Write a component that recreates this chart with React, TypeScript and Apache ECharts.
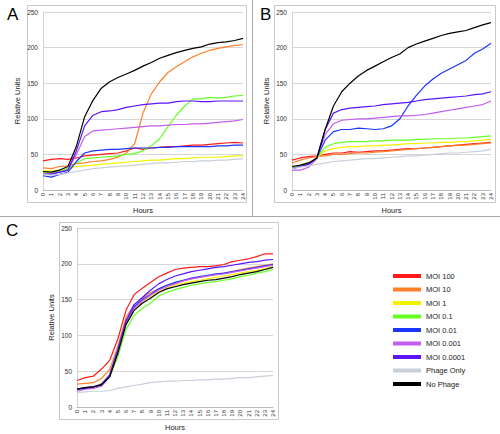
import React, { useEffect, useRef } from "react";
import * as echarts from "echarts";

const hours = [0,1,2,3,4,5,6,7,8,9,10,11,12,13,14,15,16,17,18,19,20,21,22,23,24];
const hourTicks = hours.map(String);
const yTicks = [0, 50, 100, 150, 200, 250];

const seriesNames = ["MOI 100","MOI 10","MOI 1","MOI 0.1","MOI 0.01","MOI 0.001","MOI 0.0001","Phage Only","No Phage"];
const seriesColors = ["#ff1a1a","#ff7f2a","#f2f200","#66ff22","#1a35ff","#c45cf2","#5a14ff","#c8d0da","#000000"];

// Panel A
const A_moi100 = [41,43,44,43,45,48,49,50,51,52,55,59,57,59,60,61,61,62,63,63,64,65,66,67,66];
const A_moi10 = [31,30,33,34,37,38,40,41,43,46,52,65,108,135,152,165,173,180,187,192,196,199,201,203,204];
const A_moi1 = [27,27,28,30,33,34,35,36,37,38,39,40,41,42,42,43,44,44,45,46,46,46,47,48,48];
const A_moi01 = [25,24,27,30,38,44,45,46,47,48,50,51,55,62,72,89,105,118,128,128,130,129,130,132,133];
const A_moi001 = [20,18,22,25,40,52,55,56,57,57,58,59,59,59,60,60,61,61,61,61,61,62,62,63,63];
const A_moi0001 = [23,23,25,28,50,75,83,84,85,86,87,88,89,90,90,91,92,92,93,93,94,95,96,97,99];
const A_moi00001 = [22,22,25,28,55,90,105,110,111,113,116,118,120,121,122,122,124,125,125,124,124,125,125,125,125];
const A_phage = [22,21,22,24,26,28,30,31,32,33,34,35,36,37,38,38,39,40,40,41,41,42,42,43,44];
const A_none = [26,25,28,33,61,103,126,143,152,158,163,168,174,179,185,189,193,196,199,201,205,207,208,210,213];

// Panel B
const B_moi100 = [42,45,47,48,50,52,52,54,53,54,55,55,56,57,58,58,59,60,61,62,63,64,65,66,67];
const B_moi10 = [38,42,45,47,48,50,50,51,52,52,53,54,55,56,57,58,59,60,61,62,63,63,64,65,66];
const B_moi1 = [33,35,38,45,55,58,60,61,61,62,62,63,63,64,65,65,66,66,67,67,68,68,69,70,71];
const B_moi01 = [32,33,37,45,60,65,67,68,68,68,69,69,70,70,70,71,71,72,72,72,73,73,74,75,76];
const B_moi001 = [30,33,36,45,70,82,85,85,87,86,85,86,90,100,118,133,146,156,164,170,176,182,192,198,206];
const B_moi0001 = [28,28,32,44,78,93,98,99,100,100,101,102,103,104,104,105,106,108,110,112,114,116,118,120,125];
const B_moi00001 = [30,33,36,45,85,108,113,115,116,117,118,120,121,122,123,125,127,128,129,130,131,132,134,135,138];
const B_phage = [30,32,34,36,38,40,41,42,43,44,44,45,46,47,48,48,49,50,51,52,52,53,54,55,57];
const B_none = [33,35,38,45,85,118,138,150,160,168,174,180,186,191,200,205,209,213,217,220,222,224,228,232,235];

// Panel C
const C_moi100 = [37,41,43,53,65,95,135,157,166,174,182,187,192,194,195,196,196,197,199,203,205,207,210,214,214];
const C_moi10 = [32,33,34,40,52,85,125,143,152,160,165,170,173,176,179,181,183,185,187,189,192,194,196,198,200];
const C_moi1 = [24,26,27,33,45,78,118,137,147,154,161,166,170,173,175,177,179,181,183,185,187,189,191,193,196];
const C_moi01 = [25,27,28,32,42,70,108,128,138,145,155,160,164,167,170,172,174,175,177,179,182,184,187,189,192];
const C_moi001 = [25,27,28,31,43,80,120,140,150,157,165,170,174,177,180,182,184,186,187,189,191,193,195,197,199];
const C_moi0001 = [22,25,26,29,42,78,118,138,148,156,163,168,172,176,179,181,183,185,186,188,190,192,194,196,198];
const C_moi00001 = [25,26,28,32,45,80,120,143,153,163,172,178,183,186,189,191,193,195,196,198,200,202,203,205,206];
const C_phage = [20,21,22,22,23,26,28,30,32,34,35,36,36,37,37,38,38,39,39,40,41,41,42,43,44];
const C_none = [25,27,28,31,42,75,115,135,145,152,160,165,168,171,173,175,177,178,180,182,185,187,189,192,195];

const panelA = [A_moi100, A_moi10, A_moi1, A_moi01, A_moi001, A_moi0001, A_moi00001, A_phage, A_none];
const panelB = [B_moi100, B_moi10, B_moi1, B_moi01, B_moi001, B_moi0001, B_moi00001, B_phage, B_none];
const panelC = [C_moi100, C_moi10, C_moi1, C_moi01, C_moi001, C_moi0001, C_moi00001, C_phage, C_none];

const FONT = "Liberation Sans, Arial, sans-serif";

export default function App() {
  const ref = useRef<HTMLDivElement>(null);
  useEffect(() => {
    if (!ref.current) return;
    const chart = echarts.init(ref.current, null, { renderer: "svg" });
    const grids = [
      { left: 43, top: 12, width: 200, height: 178 },
      { left: 292, top: 12, width: 199, height: 178 },
      { left: 77, top: 228, width: 196, height: 179 },
    ];
    const xAxes = grids.map((_, i) => ({
      type: "value",
      gridIndex: i,
      min: 0,
      max: 24,
      interval: 1,
      name: "Hours",
      nameLocation: "middle",
      nameGap: 16,
      nameTextStyle: { fontSize: 7.5, color: "#222", fontFamily: FONT },
      axisLine: { show: true, lineStyle: { color: "#bbbbbb", width: 1 } },
      axisTick: { show: false },
      splitLine: { show: false },
      axisLabel: {
        rotate: 90,
        fontSize: 6,
        color: "#333",
        fontFamily: FONT,
        margin: 3,
        formatter: (v: number) => hourTicks[v] ?? "",
      },
    }));
    const yAxes = grids.map((_, i) => ({
      type: "value",
      gridIndex: i,
      min: 0,
      max: 250,
      interval: 50,
      name: "Relative Units",
      nameLocation: "middle",
      nameGap: 22,
      nameTextStyle: { fontSize: 7.5, color: "#222", fontFamily: FONT },
      axisLine: { show: true, lineStyle: { color: "#d0d0d0", width: 1 } },
      axisTick: { show: false },
      splitLine: { show: true, lineStyle: { color: "#d6d6d6", width: 1 } },
      axisLabel: {
        fontSize: 6.5,
        color: "#333",
        fontFamily: FONT,
        margin: 5,
        formatter: (v: number) => (yTicks.includes(v) ? String(v) : ""),
      },
    }));
    const series: any[] = [];
    [panelA, panelB, panelC].forEach((panel, pi) => {
      panel.forEach((vals, si) => {
        series.push({
          type: "line",
          name: seriesNames[si],
          xAxisIndex: pi,
          yAxisIndex: pi,
          data: hours.map((h, k) => [h, vals[k]]),
          showSymbol: false,
          symbol: "none",
          lineStyle: { color: seriesColors[si], width: 1.2 },
          itemStyle: { color: seriesColors[si] },
          z: si === 8 ? 5 : 3,
        });
      });
    });
    const boxStyle = { fill: "#fff", stroke: "#c9c9c9", lineWidth: 1 };
    chart.setOption({
      animation: false,
      backgroundColor: "#ffffff",
      grid: grids,
      xAxis: xAxes,
      yAxis: yAxes,
      series,
      legend: {
        orient: "vertical",
        left: 388,
        top: 266,
        icon: "rect",
        itemWidth: 28,
        itemHeight: 4,
        itemGap: 3.5,
        selectedMode: false,
        data: seriesNames,
        textStyle: { fontSize: 7.5, color: "#222", fontFamily: FONT, lineHeight: 10 },
      },
      graphic: [
        { type: "line", z: -20, shape: { x1: 252.5, y1: 0, x2: 252.5, y2: 216 }, style: { stroke: "#a8a8a8", lineWidth: 1 } },
        { type: "line", z: -20, shape: { x1: 0, y1: 216.5, x2: 500, y2: 216.5 }, style: { stroke: "#a8a8a8", lineWidth: 1 } },
        { type: "rect", z: -10, shape: { x: 27.5, y: 5.5, width: 219, height: 197 }, style: boxStyle },
        { type: "rect", z: -10, shape: { x: 274.5, y: 5.5, width: 221, height: 197 }, style: boxStyle },
        { type: "rect", z: -10, shape: { x: 59.5, y: 222.5, width: 219, height: 197 }, style: boxStyle },
        { type: "text", left: 7, top: 6, style: { text: "A", fontSize: 17, fill: "#000", fontFamily: FONT } },
        { type: "text", left: 260, top: 6, style: { text: "B", fontSize: 17, fill: "#000", fontFamily: FONT } },
        { type: "text", left: 6, top: 222, style: { text: "C", fontSize: 17, fill: "#000", fontFamily: FONT } },
      ],
    });
    return () => chart.dispose();
  }, []);
  return <div ref={ref} style={{ position: "fixed", left: 0, top: 0, width: 500, height: 434 }} />;
}
